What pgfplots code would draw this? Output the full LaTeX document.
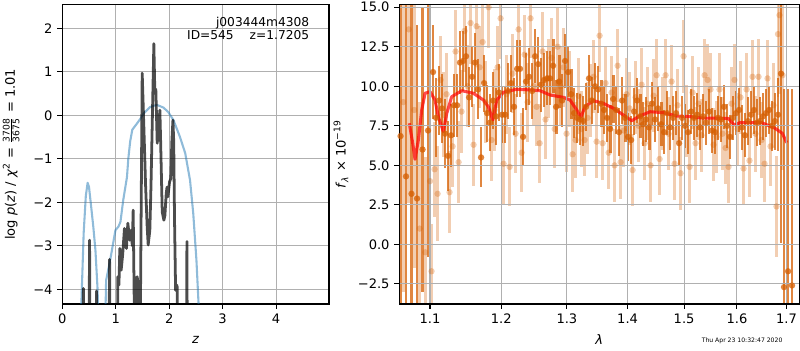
\documentclass[border=0pt]{standalone}
\usepackage{fontspec}
\setmainfont{DejaVu Sans}
\usepackage{pgfplots}
\usepackage{pgfplotstable}
\pgfplotsset{compat=1.18}
\definecolor{vermil}{RGB}{213,94,0}
\definecolor{pzblue}{RGB}{31,119,180}
\definecolor{gridgray}{RGB}{176,176,176}

\pgfplotstableread{
x y e
1.0611 6.85 14
1.0682 4.3 13
1.0754 3.2 12
1.0827 2.9 11
1.0900 6.0 9
1.0973 7.2 8
1.1040 10.9 3.0
1.1081 8.0 2.5
1.1122 9.1 2.2
1.1162 8.6 2.2
1.1203 7.0 2.2
1.1244 5.6 2.2
1.1286 6.9 2.0
1.1327 8.8 2.0
1.1369 8.8 2.0
1.1410 11.5 2.0
1.1452 11.6 1.9
1.1494 11.9 1.9
1.1537 9.3 1.9
1.1579 10.6 1.9
1.1621 11.5 1.9
1.1664 9.8 1.9
1.1707 5.5 1.9
1.1750 10.2 1.8
1.1793 8.3 1.8
1.1836 7.7 1.8
1.1879 9.1 1.8
1.1923 8.1 1.8
1.1967 9.6 1.8
1.2011 8.2 1.8
1.2055 8.2 1.8
1.2099 9.7 1.8
1.2144 10.2 1.8
1.2188 8.7 1.8
1.2233 11.1 1.8
1.2278 11.1 1.8
1.2323 6.8 1.8
1.2368 10.3 1.8
1.2413 10.6 1.8
1.2459 9.7 1.8
1.2505 11.9 1.7
1.2551 11.4 1.7
1.2597 10.1 1.7
1.2643 10.4 1.7
1.2689 10.5 1.7
1.2736 10.5 1.7
1.2783 11.3 1.7
1.2830 8.7 1.7
1.2877 10.3 1.7
1.2924 9.1 1.7
1.2971 11.6 1.7
1.3019 10.9 1.6
1.3067 9.5 1.6
1.3115 8.3 1.6
1.3163 8.0 1.6
1.3211 7.9 1.6
1.3260 7.8 1.6
1.3308 8.7 1.5
1.3357 10.5 1.5
1.3406 9.1 1.5
1.3456 10.0 1.5
1.3505 9.8 1.5
1.3555 8.9 1.5
1.3604 8.5 1.5
1.3654 8.0 1.5
1.3705 7.3 1.5
1.3755 9.2 1.5
1.3805 8.5 1.5
1.3856 7.1 1.5
1.3907 9.1 1.5
1.3958 8.0 1.5
1.4009 6.8 1.5
1.4060 6.6 1.5
1.4112 8.4 1.5
1.4164 9.1 1.4
1.4216 8.1 1.4
1.4268 7.6 1.4
1.4320 7.9 1.4
1.4373 7.4 1.4
1.4425 8.9 1.4
1.4478 7.9 1.4
1.4531 8.6 1.4
1.4585 7.6 1.4
1.4638 7.1 1.4
1.4692 8.3 1.4
1.4746 7.4 1.4
1.4800 8.0 1.4
1.4854 8.3 1.4
1.4909 6.4 1.4
1.4963 8.0 1.4
1.5018 7.5 1.4
1.5073 7.1 1.4
1.5129 8.4 1.4
1.5184 8.0 1.4
1.5240 8.2 1.4
1.5296 7.4 1.4
1.5352 8.1 1.4
1.5408 7.7 1.4
1.5465 8.4 1.4
1.5521 7.2 1.4
1.5578 7.1 1.4
1.5635 8.0 1.4
1.5693 7.9 1.4
1.5750 8.7 1.4
1.5808 7.5 1.4
1.5866 6.8 1.4
1.5924 8.0 1.4
1.5982 8.3 1.4
1.6041 8.5 1.4
1.6100 7.4 1.4
1.6159 6.9 1.4
1.6218 7.8 1.5
1.6278 8.2 1.5
1.6337 8.5 1.5
1.6397 7.7 1.5
1.6457 7.8 1.5
1.6518 8.1 1.5
1.6578 8.3 1.5
1.6639 8.5 1.5
1.6700 7.5 1.6
1.6761 7.8 1.8
1.6823 8.2 2.3
1.6885 10.8 10.7
1.6947 -2.7 12.5
1.7030 -1.7 11.5
1.7113 -2.6 12.4
}\darkdata

\pgfplotstableread{
x y e
1.0646 9.0 12
1.0718 13.6 11
1.0790 8.5 10
1.0862 1.0 8
1.0936 -0.5 6
1.1000 4.0 5
1.1020 -1.7 3
1.1061 4.75 3
1.1102 3.2 3
1.1142 10.4 2.8
1.1183 8.2 2.7
1.1224 9.5 2.6
1.1265 3.3 2.6
1.1307 6.2 2.6
1.1348 12.2 2.6
1.1390 5.2 2.6
1.1431 8.4 2.6
1.1473 13.5 2.6
1.1516 10.0 2.6
1.1558 14.0 2.6
1.1600 6.3 2.6
1.1643 13.8 2.6
1.1686 11.2 2.6
1.1729 12.8 2.6
1.1772 9.0 2.6
1.1815 15.0 2.6
1.1858 6.6 2.6
1.1901 8.5 2.6
1.1945 11.2 2.6
1.1989 14.3 2.6
1.2033 5.1 2.6
1.2077 9.5 2.5
1.2122 4.9 2.5
1.2166 10.8 2.5
1.2211 7.0 2.5
1.2256 13.6 2.5
1.2301 5.8 2.5
1.2346 12.0 2.5
1.2391 9.0 2.5
1.2436 14.3 2.5
1.2482 10.0 2.5
1.2528 8.7 2.5
1.2574 6.4 2.5
1.2620 12.2 2.5
1.2666 7.9 2.5
1.2713 10.5 2.5
1.2760 11.8 2.5
1.2807 7.3 2.5
1.2854 12.5 2.5
1.2901 10.0 2.5
1.2948 11.2 2.5
1.2995 7.0 2.4
1.3043 9.8 2.4
1.3091 5.7 2.4
1.3139 6.6 2.4
1.3187 9.4 2.4
1.3236 7.3 2.4
1.3284 6.6 2.3
1.3333 8.0 2.3
1.3382 9.1 2.3
1.3431 10.6 2.3
1.3481 6.5 2.3
1.3530 13.2 2.3
1.3580 6.4 2.3
1.3629 10.2 2.3
1.3680 5.8 2.3
1.3730 9.6 2.3
1.3780 5.0 2.3
1.3831 11.3 2.3
1.3882 5.2 2.3
1.3933 7.2 2.3
1.3984 9.5 2.3
1.4035 8.6 2.3
1.4086 4.7 2.3
1.4138 9.3 2.3
1.4190 7.5 2.3
1.4242 10.1 2.3
1.4294 6.4 2.3
1.4347 8.9 2.3
1.4399 5.0 2.3
1.4452 9.4 2.3
1.4505 10.7 2.3
1.4558 5.4 2.3
1.4612 8.3 2.3
1.4665 10.7 2.3
1.4719 7.0 2.3
1.4773 10.3 2.3
1.4827 5.1 2.3
1.4882 8.8 2.3
1.4936 4.5 2.3
1.4991 11.9 2.3
1.5046 7.8 2.3
1.5101 4.9 2.3
1.5157 9.6 2.3
1.5212 6.4 2.3
1.5268 8.9 2.3
1.5324 6.9 2.3
1.5380 10.7 2.3
1.5437 10.4 2.3
1.5493 9.8 2.3
1.5550 6.3 2.3
1.5607 6.8 2.3
1.5664 9.8 2.3
1.5722 7.0 2.3
1.5779 6.1 2.3
1.5837 4.9 2.3
1.5895 8.9 2.3
1.5953 10.4 2.3
1.6012 7.3 2.3
1.6071 9.3 2.3
1.6130 4.8 2.3
1.6189 9.8 2.3
1.6248 5.3 2.3
1.6308 10.6 2.3
1.6367 7.0 2.4
1.6427 10.6 2.4
1.6488 6.6 2.4
1.6548 5.1 2.4
1.6609 10.5 2.4
1.6670 6.2 2.5
1.6731 8.8 2.7
1.6792 2.4 3.2
1.6823 13.3 4.0
1.6854 14.5 5
1.6916 10.7 6
}\lightdata

\pgfplotsset{
  mpl/.style={
    scale only axis,
    axis line style={black, line width=0.8pt},
    tick style={black, line width=0.8pt},
    major tick length=3.5pt,
    tick align=outside,
    tick pos=left,
    grid=major,
    major grid style={gridgray, line width=0.8pt},
    tick label style={font=\fontsize{9.4}{11}\selectfont},
    label style={font=\fontsize{9.4}{11}\selectfont},
  }
}

\begin{document}
\begin{tikzpicture}
\path[use as bounding box] (-44.86pt,-33.12pt) rectangle (531.14pt,218.88pt);

% ---------- left panel: p(z) ----------
\begin{axis}[mpl,
  at={(0pt,0pt)}, anchor=south west,
  width=192pt, height=215.5pt,
  xmin=0, xmax=4.99, ymin=-4.337, ymax=2.544,
  xtick={0,1,2,3,4}, xticklabels={0,1,2,3,4},
  ytick={-4,-3,-2,-1,0,1,2}, yticklabels={−4,−3,−2,−1,0,1,2},
  xlabel={\textit{z}},
  xlabel style={at={(axis description cs:0.5,-0.12)}, anchor=center},
  ylabel={log \textit{p}(\textit{z}) / \textit{χ}\textsuperscript{2} = $\frac{\mbox{\fontsize{6.6}{7}\selectfont 3708}}{\mbox{\fontsize{6.6}{7}\selectfont 3675}}$ = 1.01},
  ylabel style={at={(axis description cs:-0.192,0.5)}, anchor=center},
]
\addplot[pzblue, opacity=0.5, line width=1.5pt, line join=round] coordinates {
(0.33,-5) (0.36,-4.2) (0.40,-2.7) (0.44,-1.85) (0.474,-1.55) (0.50,-1.65)
(0.54,-2.1) (0.58,-2.56) (0.62,-3.1) (0.66,-4.0) (0.68,-5) (0.72,-6) (0.78,-6)
(0.80,-5) (0.82,-3.79) (0.90,-3.3) (0.994,-2.64) (1.05,-2.56) (1.088,-2.45)
(1.14,-1.95) (1.21,-1.42) (1.235,-1.0) (1.27,-0.6) (1.31,-0.33) (1.39,-0.2)
(1.46,-0.08) (1.52,0.04) (1.64,0.19) (1.77,0.24) (1.89,0.18) (1.98,0.08)
(2.08,-0.11) (2.20,-0.49) (2.30,-0.87) (2.39,-1.49) (2.45,-2.25) (2.51,-3.33)
(2.55,-4.34) (2.58,-5)
};
\addplot[black, opacity=0.7, line width=2pt, line join=round] coordinates {
(0.37,-8) (0.395,-3.98) (0.41,-8) (0.49,-8) (0.51,-2.87) (0.53,-8)
(0.62,-8) (0.64,-4.04) (0.66,-8) (0.86,-8) (0.885,-3.31) (0.905,-8)
(1.02,-8) (1.038,-3.71) (1.060,-3.9) (1.076,-3.06) (1.101,-3.56) (1.13,-3.2)
(1.163,-2.6) (1.20,-3.06) (1.226,-2.48) (1.263,-2.87) (1.288,-2.64) (1.310,-3.0)
(1.326,-2.18) (1.345,-4.2) (1.357,-8) (1.375,-3.8) (1.401,-3.71) (1.42,-3.9)
(1.44,-8) (1.495,0.97) (1.526,-0.26) (1.557,-1.56) (1.588,-2.56) (1.607,-2.98)
(1.638,-2.64) (1.66,-1.6) (1.682,-0.26) (1.713,1.65) (1.732,0.5) (1.750,0.6)
(1.776,-0.64) (1.800,-0.3) (1.826,0.12) (1.840,-0.6) (1.870,-2.22) (1.901,-2.41)
(1.92,-2.3) (1.945,-1.79) (1.960,-1.65) (1.976,-1.87) (2.007,-1.53) (2.030,-1.45)
(2.050,-0.6) (2.070,-0.11) (2.085,-0.6) (2.100,-2.4) (2.120,-4.02) (2.140,-3.9)
(2.151,-3.95) (2.17,-8) (2.315,-8) (2.332,-2.9) (2.345,-8)
};
\node[anchor=base east, font=\fontsize{8.8}{10}\selectfont] at (rel axis cs:0.944,0.926) {j003444m4308};
\node[anchor=base east, font=\fontsize{8.8}{10}\selectfont] at (rel axis cs:0.944,0.883) {ID=545\hspace{11.5pt}z=1.7205};
\end{axis}

% ---------- right panel: spectrum ----------
\begin{axis}[mpl,
  at={(242.64pt,0pt)}, anchor=south west,
  width=288pt, height=215.5pt,
  axis on top,
  xmode=log,
  xmin=1.0595, xmax=1.7267, ymin=-3.77, ymax=15.16,
  xtick={1.1,1.2,1.3,1.4,1.5,1.6,1.7},
  xticklabels={1.1,1.2,1.3,1.4,1.5,1.6,1.7},
  minor xtick={},
  ytick={-2.5,0,2.5,5,7.5,10,12.5,15},
  yticklabels={−2.5,0.0,2.5,5.0,7.5,10.0,12.5,15.0},
  xlabel={\textit{λ}},
  xlabel style={at={(axis description cs:0.5,-0.12)}, anchor=center},
  ylabel={\textit{f}\textsubscript{\textit{λ}} × 10\textsuperscript{−19}},
  ylabel style={at={(axis description cs:-0.146,0.5)}, anchor=center},
]
\addplot[color=vermil, only marks, mark=*, mark size=2.3pt,
  mark options={draw opacity=0, fill=vermil, fill opacity=0.3},
  error bars/.cd, y dir=both, y explicit, error mark=none,
  error bar style={line width=2pt, draw=vermil, draw opacity=0.3}]
  table[x=x, y=y, y error=e] {\lightdata};
\addplot[color=vermil, only marks, mark=*, mark size=2.3pt,
  mark options={draw opacity=0, fill=vermil, fill opacity=0.75},
  error bars/.cd, y dir=both, y explicit, error mark=none,
  error bar style={line width=2pt, draw=vermil, draw opacity=0.75}]
  table[x=x, y=y, y error=e] {\darkdata};
\addplot[red, opacity=0.7, line width=2.2pt, line join=round] coordinates {
(1.0725,7.66) (1.0770,6.39) (1.0800,5.38) (1.0844,6.60) (1.0889,8.50) (1.0933,9.56)
(1.1000,9.66) (1.1067,9.13) (1.1112,8.08) (1.1180,7.13) (1.1227,8.29) (1.1295,9.34)
(1.1434,9.72) (1.1597,9.56) (1.1740,9.13) (1.1812,8.71) (1.1876,7.87) (1.1933,9.13)
(1.2030,9.62) (1.2228,9.81) (1.2428,9.77) (1.2581,9.72) (1.2735,9.45) (1.2944,9.30)
(1.3050,9.13) (1.3158,8.50) (1.3222,8.04) (1.3292,8.71) (1.3427,9.09) (1.3593,8.92)
(1.3760,8.61) (1.3929,8.18) (1.4073,7.82) (1.4186,8.08) (1.4390,8.39) (1.4627,8.33)
(1.4866,8.12) (1.5110,8.08) (1.5203,8.04) (1.5357,7.99) (1.5833,7.97) (1.5950,7.55)
(1.6061,7.70) (1.6492,7.70) (1.6762,7.34) (1.6912,7.03) (1.7002,6.43)
};
\addplot[black, line width=1.2pt, dash pattern=on 1.2pt off 2.4pt] coordinates {(1.0595,0) (1.7267,0)};
\end{axis}

\node[anchor=base east, font=\fontsize{4.4}{5}\selectfont] at (522pt,-27.4pt) {Thu Apr 23 10:32:47 2020};
\end{tikzpicture}
\end{document}
